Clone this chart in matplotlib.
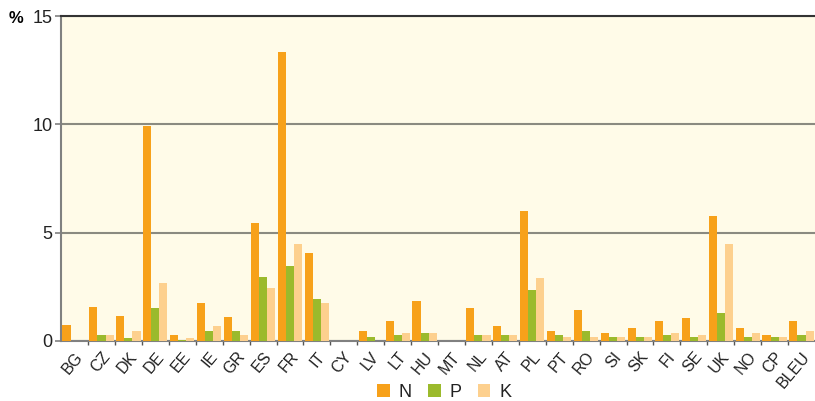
import matplotlib.pyplot as plt
import numpy as np

plt.rcParams['font.family'] = ['Liberation Sans', 'DejaVu Sans']

countries = ['BG', 'CZ', 'DK', 'DE', 'EE', 'IE', 'GR', 'ES', 'FR', 'IT', 'CY', 'LV', 'LT', 'HU',
             'MT', 'NL', 'AT', 'PL', 'PT', 'RO', 'SI', 'SK', 'FI', 'SE', 'UK', 'NO', 'CP', 'BLEU']
n_vals = [0.75, 1.57, 1.15, 9.9, 0.25, 1.75, 1.1, 5.45, 13.35, 4.04, 0.0, 0.46, 0.92, 1.83,
          0.0, 1.51, 0.69, 6.01, 0.46, 1.42, 0.37, 0.6, 0.92, 1.07, 5.78, 0.6, 0.28, 0.92]
p_vals = [0.0, 0.25, 0.15, 1.5, 0.03, 0.45, 0.45, 2.95, 3.45, 1.93, 0.0, 0.18, 0.28, 0.37,
          0.0, 0.28, 0.28, 2.34, 0.28, 0.46, 0.18, 0.18, 0.28, 0.18, 1.28, 0.18, 0.18, 0.28]
k_vals = [0.0, 0.25, 0.45, 2.65, 0.15, 0.7, 0.25, 2.45, 4.45, 1.74, 0.0, 0.0, 0.37, 0.37,
          0.0, 0.28, 0.28, 2.89, 0.18, 0.18, 0.18, 0.18, 0.37, 0.28, 4.45, 0.37, 0.18, 0.46]

c_n = '#f7a11a'
c_p = '#9bba2c'
c_k = '#fdd08e'

fig = plt.figure(figsize=(8.15, 4.01), dpi=100)
ax = fig.add_axes([0.075, 0.15, 0.925, 0.81])
ax.set_facecolor('#fffbe8')

x = np.arange(len(countries))
w = 0.3
ax.bar(x - w, n_vals, w, color=c_n, label='N', zorder=3)
ax.bar(x, p_vals, w, color=c_p, label='P', zorder=3)
ax.bar(x + w, k_vals, w, color=c_k, label='K', zorder=3)

ax.set_xlim(-0.5, len(countries) - 0.5)
ax.set_ylim(0, 15)
ax.set_yticks([0, 5, 10, 15])
ax.yaxis.grid(True, color='#8a8a80', lw=1.5, zorder=1)
ax.set_axisbelow(True)

ax.set_xticks(x)
ax.set_xticklabels(countries, rotation=50, ha='right', va='top', rotation_mode='anchor',
                   fontsize=11.5, color='#222222')
ax.set_xticks(x[:-1] + 0.5, minor=True)
ax.tick_params(axis='x', which='major', length=0, pad=6)
ax.tick_params(axis='x', which='minor', length=3, color='#555555', width=1)
ax.tick_params(axis='y', length=4, color='#808080', width=1.2, labelsize=13, pad=2,
               labelcolor='#222222')

for s in ['left', 'bottom']:
    ax.spines[s].set_color('#808080')
    ax.spines[s].set_linewidth(1.5)
ax.spines['top'].set_color('#333333')
ax.spines['top'].set_linewidth(1.5)
ax.spines['right'].set_visible(False)

fig.text(0.011, 0.955, '%', fontsize=12, fontweight='bold', va='center')

fig.legend(loc='center', bbox_to_anchor=(0.545, 0.022), ncol=3, frameon=False,
           handlelength=0.7, handleheight=0.7, handletextpad=0.5, columnspacing=0.9,
           fontsize=13, labelcolor='#222222')

fig.savefig('out.png', dpi=100)
